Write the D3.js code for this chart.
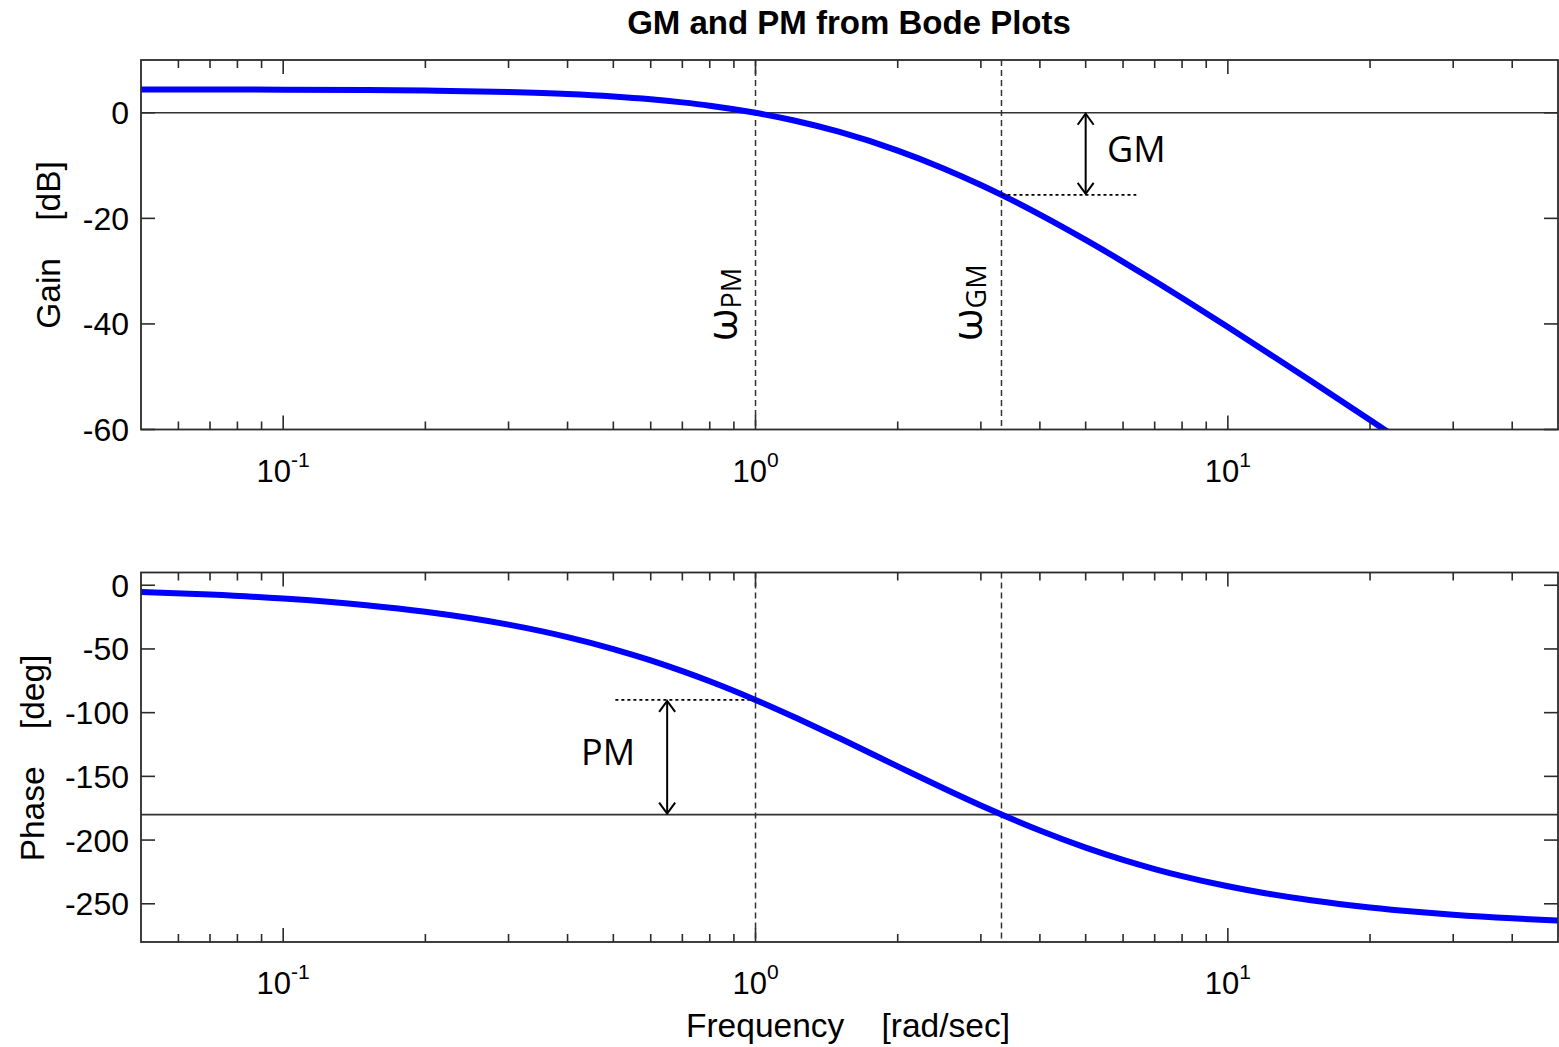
<!DOCTYPE html>
<html>
<head>
<meta charset="utf-8">
<script src="https://cdn.jsdelivr.net/npm/d3@7"></script>
<style>
  html, body { margin: 0; padding: 0; background: #fff; }
  svg text { white-space: pre; }
</style>
</head>
<body>
<svg id="chart" width="1559" height="1047"></svg>
<script>
// Frequency samples [rad/sec]
const freq = [0.05, 0.07, 0.1, 0.15, 0.2, 0.3, 0.4, 0.5, 0.6, 0.7, 0.8, 1.0, 1.2, 1.5, 2, 2.5, 3, 3.317, 4, 5, 6, 7, 8, 10, 12, 15, 20, 25, 30, 40, 50];
// Magnitude [dB]
const gainDb = [4.42, 4.41, 4.38, 4.31, 4.20, 3.92, 3.55, 3.09, 2.56, 1.97, 1.35, 0.0, -1.42, -3.59, -7.16, -10.54, -13.69, -15.56, -19.29, -24.09, -28.23, -31.87, -35.09, -40.59, -45.16, -50.83, -58.21, -63.97, -68.69, -76.16, -81.96];
// Phase [deg]
const phaseDeg = [-5.25, -7.35, -10.48, -15.68, -20.84, -30.94, -40.71, -50.06, -58.97, -67.42, -75.39, -90.0, -102.96, -119.75, -142.13, -159.35, -172.88, -180.0, -192.53, -205.93, -215.54, -222.73, -228.28, -236.28, -241.74, -247.28, -252.90, -256.29, -258.57, -261.42, -263.13];

// Tick values
const gainTicks = [0, -20, -40, -60];
const phaseTicks = [0, -50, -100, -150, -200, -250];
const decadeExps = [-1, 0, 1];

// Crossover frequencies and margins
const wPM = 1.0;          // gain crossover
const wGM = 3.317;        // phase crossover
const gmLevel = -15.56;   // gain at wGM [dB]
const pmLevel = -90.0;    // phase at wPM [deg]
const gmArrowW = 5.0, gmDotEnd = 6.4;
const pmArrowW = 0.65, pmDotStart = 0.505;

const svg = d3.select("#chart");
const left = 141, right = 1558;
const axisFont = "'Liberation Sans', Arial, sans-serif";
const noteFont = "'Open Sans', 'Noto Sans', sans-serif";
const frameColor = "#2b2b2b";

const x = d3.scaleLog().domain([0.05, 50]).range([left, right]);

// Title
svg.append("text")
  .attr("x", 849).attr("y", 34)
  .attr("text-anchor", "middle")
  .attr("font-family", axisFont).attr("font-weight", "bold")
  .attr("font-size", 33).attr("fill", "#000")
  .text("GM and PM from Bode Plots");

// Arrowhead marker (open V)
const defs = svg.append("defs");
defs.append("marker")
  .attr("id", "vhead").attr("viewBox", "-12 -10 14 20")
  .attr("refX", 0).attr("refY", 0)
  .attr("markerWidth", 14).attr("markerHeight", 20)
  .attr("markerUnits", "userSpaceOnUse")
  .attr("orient", "auto-start-reverse")
  .append("path").attr("d", "M-11,-8 L0,0 L-11,8")
  .attr("fill", "none").attr("stroke", "#000").attr("stroke-width", 2);

function panel(cfg) {
  const y = d3.scaleLinear().domain(cfg.domain).range([cfg.bottom, cfg.top]);
  const g = svg.append("g");
  const clipId = cfg.id + "-clip";
  defs.append("clipPath").attr("id", clipId)
    .append("rect").attr("x", left).attr("y", cfg.top)
    .attr("width", right - left).attr("height", cfg.bottom - cfg.top);

  // Reference horizontal line (0 dB / -180 deg)
  g.append("line")
    .attr("x1", left).attr("x2", right)
    .attr("y1", y(cfg.refLevel)).attr("y2", y(cfg.refLevel))
    .attr("stroke", "#333").attr("stroke-width", 1.6);

  // Dashed crossover verticals
  [wPM, wGM].forEach(w => {
    g.append("line")
      .attr("x1", x(w)).attr("x2", x(w))
      .attr("y1", cfg.top).attr("y2", cfg.bottom)
      .attr("stroke", "#333").attr("stroke-width", 1.5)
      .attr("stroke-dasharray", "6,4");
  });

  // Curve
  const line = d3.line()
    .x((d, i) => x(freq[i]))
    .y(d => y(d))
    .curve(d3.curveMonotoneX);
  g.append("path")
    .attr("clip-path", `url(#${clipId})`)
    .attr("d", line(cfg.values))
    .attr("fill", "none").attr("stroke", "#0000ff")
    .attr("stroke-width", 6).attr("stroke-linejoin", "round");

  // Frame
  g.append("rect")
    .attr("x", left).attr("y", cfg.top)
    .attr("width", right - left).attr("height", cfg.bottom - cfg.top)
    .attr("fill", "none").attr("stroke", frameColor).attr("stroke-width", 1.8);

  // Log x ticks, inward on bottom and top edges
  const [d0, d1] = x.domain();
  const xticks = [];
  for (let e = -2; e <= 1; e++) {
    for (let m = 1; m <= 9; m++) {
      const v = m * Math.pow(10, e);
      if (v > d0 * 1.0001 && v < d1 * 0.9999) xticks.push({ v, major: m === 1 });
    }
  }
  xticks.forEach(t => {
    const len = t.major ? 14 : 8;
    g.append("line").attr("x1", x(t.v)).attr("x2", x(t.v))
      .attr("y1", cfg.bottom).attr("y2", cfg.bottom - len)
      .attr("stroke", frameColor).attr("stroke-width", 1.6);
    g.append("line").attr("x1", x(t.v)).attr("x2", x(t.v))
      .attr("y1", cfg.top).attr("y2", cfg.top + len)
      .attr("stroke", frameColor).attr("stroke-width", 1.6);
  });

  // Decade labels 10^n
  decadeExps.forEach(e => {
    const t = g.append("text")
      .attr("x", x(Math.pow(10, e))).attr("y", cfg.bottom + 52)
      .attr("text-anchor", "middle")
      .attr("font-family", axisFont).attr("font-size", 31).attr("fill", "#000");
    t.append("tspan").text("10");
    t.append("tspan").attr("font-size", 21).attr("dy", -15).text(String(e));
  });

  // y ticks, inward on left and right edges
  cfg.ticks.forEach(v => {
    g.append("line").attr("x1", left).attr("x2", left + 14)
      .attr("y1", y(v)).attr("y2", y(v))
      .attr("stroke", frameColor).attr("stroke-width", 1.6);
    g.append("line").attr("x1", right).attr("x2", right - 14)
      .attr("y1", y(v)).attr("y2", y(v))
      .attr("stroke", frameColor).attr("stroke-width", 1.6);
    g.append("text")
      .attr("x", left - 12).attr("y", y(v))
      .attr("dy", "0.36em")
      .attr("text-anchor", "end")
      .attr("font-family", axisFont).attr("font-size", 32).attr("fill", "#000")
      .text(String(v));
  });

  // y axis title
  g.append("text")
    .attr("transform", `translate(${cfg.labelX},${cfg.labelY}) rotate(-90)`)
    .attr("text-anchor", "middle")
    .attr("font-family", axisFont).attr("font-size", 33.5).attr("fill", "#000")
    .text(cfg.label);

  return y;
}

const yGain = panel({
  id: "gain", domain: [-60, 10], top: 60, bottom: 429.5,
  values: gainDb, ticks: gainTicks, refLevel: 0,
  label: "Gain    [dB]", labelX: 60, labelY: 245
});

const yPhase = panel({
  id: "phase", domain: [-280, 10], top: 572.5, bottom: 942,
  values: phaseDeg, ticks: phaseTicks, refLevel: -180,
  label: "Phase    [deg]", labelX: 44, labelY: 758
});

// Gain margin annotation
svg.append("line")
  .attr("x1", x(wGM)).attr("x2", x(gmDotEnd))
  .attr("y1", yGain(gmLevel)).attr("y2", yGain(gmLevel))
  .attr("stroke", "#000").attr("stroke-width", 1.6).attr("stroke-dasharray", "3,3");
svg.append("line")
  .attr("x1", x(gmArrowW)).attr("x2", x(gmArrowW))
  .attr("y1", yGain(0) + 1).attr("y2", yGain(gmLevel) - 1)
  .attr("stroke", "#000").attr("stroke-width", 2)
  .attr("marker-start", "url(#vhead)").attr("marker-end", "url(#vhead)");
svg.append("text")
  .attr("x", 1107).attr("y", 162)
  .attr("font-family", noteFont).attr("font-size", 36).attr("fill", "#000")
  .text("GM");

// Phase margin annotation
svg.append("line")
  .attr("x1", x(pmDotStart)).attr("x2", x(wPM))
  .attr("y1", yPhase(pmLevel)).attr("y2", yPhase(pmLevel))
  .attr("stroke", "#000").attr("stroke-width", 1.6).attr("stroke-dasharray", "3,3");
svg.append("line")
  .attr("x1", x(pmArrowW)).attr("x2", x(pmArrowW))
  .attr("y1", yPhase(pmLevel) + 1).attr("y2", yPhase(-180) - 1)
  .attr("stroke", "#000").attr("stroke-width", 2)
  .attr("marker-start", "url(#vhead)").attr("marker-end", "url(#vhead)");
svg.append("text")
  .attr("x", 581).attr("y", 765)
  .attr("font-family", noteFont).attr("font-size", 36).attr("fill", "#000")
  .text("PM");

// Crossover frequency labels (rotated)
[[wPM, "PM"], [wGM, "GM"]].forEach(([w, sub]) => {
  const t = svg.append("text")
    .attr("transform", `translate(${x(w) - 19},341) rotate(-90)`)
    .attr("font-family", noteFont).attr("fill", "#000");
  t.append("tspan").attr("font-size", 42).text("ω");
  t.append("tspan").attr("font-size", 27).attr("dy", 4).text(sub);
});

// x axis title
svg.append("text")
  .attr("x", 848).attr("y", 1037)
  .attr("text-anchor", "middle")
  .attr("font-family", axisFont).attr("font-size", 33.5).attr("fill", "#000")
  .text("Frequency    [rad/sec]");
</script>
</body>
</html>
